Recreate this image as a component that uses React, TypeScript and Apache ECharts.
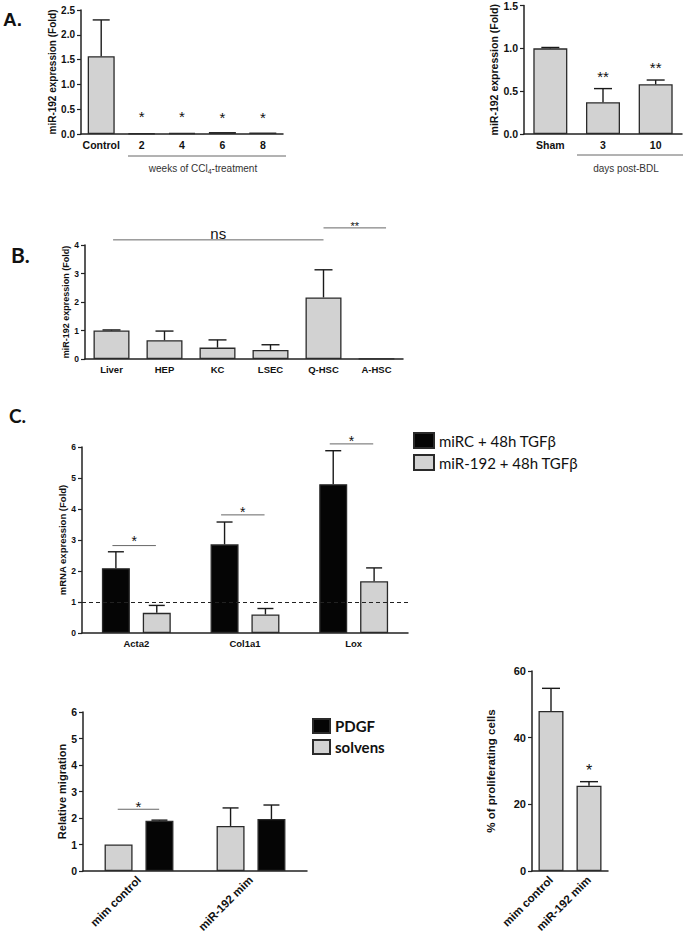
import React, { useEffect, useRef } from 'react';
import * as echarts from 'echarts';

const FONT = '"Liberation Sans", Arial, sans-serif';
const GRAY = '#d2d2d2';
const BLACK = '#050505';
const EDGE = '#2a2a2a';

// Panel A (left): CCl4
const catsA1 = ['Control', '2', '4', '6', '8'];
const valsA1 = [1.57, 0.01, 0.02, 0.04, 0.03];
const errA1 = [2.30, 0.015, 0.025, 0.05, 0.035];
const ticksA1 = [0, 0.5, 1.0, 1.5, 2.0, 2.5];
// [cat1, off1, cat2, off2, lineY, textY]
const annA1 = [[1, 0, 1, 0, 0.44, 0.44], [2, 0, 2, 0, 0.44, 0.44], [3, 0, 3, 0, 0.42, 0.42], [4, 0, 4, 0, 0.42, 0.42]];
const annA1Labels = ['*', '*', '*', '*'];

// Panel A (right): BDL
const catsA2 = ['Sham', '3', '10'];
const valsA2 = [1.0, 0.37, 0.58];
const errA2 = [1.01, 0.53, 0.63];
const annA2 = [[1, 0, 1, 0, 0.72, 0.72], [2, 0, 2, 0, 0.82, 0.82]];
const annA2Labels = ['**', '**'];

// Panel B: cell types
const catsB = ['Liver', 'HEP', 'KC', 'LSEC', 'Q-HSC', 'A-HSC'];
const valsB = [1.0, 0.66, 0.40, 0.32, 2.16, 0.01];
const errB = [1.02, 0.98, 0.67, 0.50, 3.13, 0.01];
const annB = [[0, 0.03, 4, 0, 4.18, 4.42], [4, 0, 5, 0.18, 4.6, 4.77]];
const annBLabels = ['ns', '**'];

// Panel C: mRNA expression
const catsC = ['Acta2', 'Col1a1', 'Lox'];
const seriesC1Name = 'miRC + 48h TGFβ';
const seriesC2Name = 'miR-192 + 48h TGFβ';
const valsC1 = [2.09, 2.86, 4.80];
const errC1 = [2.62, 3.58, 5.88];
const valsC2 = [0.65, 0.60, 1.67];
const errC2 = [0.89, 0.79, 2.10];
const refLineC = 1;
const annC = [[0, -0.22, 0, 0.18, 2.82, 3.1], [1, -0.22, 1, 0.18, 3.81, 4.03], [2, -0.22, 2, 0.18, 6.1, 6.32]];
const annCLabels = ['*', '*', '*'];

// Panel D: migration
const catsD = ['mim control', 'miR-192 mim'];
const valsDSolvens = [1.0, 1.70];
const errDSolvens = [1.0, 2.38];
const valsDPDGF = [1.90, 1.96];
const errDPDGF = [1.92, 2.49];
const annD = [[0, -0.19, 0, 0.18, 2.33, 2.6]];
const annDLabels = ['*'];

// Panel E: proliferation
const catsE = ['mim control', 'miR-192 mim'];
const valsE = [48.0, 25.6];
const errE = [54.8, 26.8];
const annE = [[1, 0, 1, 0, 31.5, 31.5]];
const annELabels = ['*'];

function errSeries(idx: number, vals: number[], tops: number[], offset: number, cap: number) {
  return {
    type: 'custom',
    xAxisIndex: idx,
    yAxisIndex: idx,
    silent: true,
    z: 3,
    encode: { x: 0, y: [1, 2] },
    data: vals.map((v, i) => [i, v, tops[i]]),
    renderItem: (params: any, api: any) => {
      const i = api.value(0);
      const p0 = api.coord([i, api.value(1)]);
      const p1 = api.coord([i, api.value(2)]);
      const x = p0[0] + offset;
      if (Math.abs(p1[1] - p0[1]) < 0.5) return null;
      const st = { stroke: '#1a1a1a', lineWidth: 1.4 };
      return {
        type: 'group',
        children: [
          { type: 'line', shape: { x1: x, y1: p0[1], x2: x, y2: p1[1] }, style: st },
          { type: 'line', shape: { x1: x - cap / 2, y1: p1[1], x2: x + cap / 2, y2: p1[1] }, style: st },
        ],
      };
    },
  };
}

function annSeries(idx: number, data: number[][], labels: string[], size: number) {
  return {
    type: 'custom',
    xAxisIndex: idx,
    yAxisIndex: idx,
    silent: true,
    z: 5,
    encode: { x: 0, y: 4 },
    data,
    renderItem: (params: any, api: any) => {
      const bw = api.size([1, 0])[0];
      const p1 = api.coord([api.value(0), api.value(4)]);
      const p2 = api.coord([api.value(2), api.value(4)]);
      const pt = api.coord([api.value(0), api.value(5)]);
      const x1 = p1[0] + api.value(1) * bw;
      const x2 = p2[0] + api.value(3) * bw;
      const label = labels[params.dataIndex];
      const isStar = label.indexOf('*') >= 0;
      const fs = label === 'ns' ? 15 : size;
      const children: any[] = [];
      if (x2 - x1 > 1) {
        children.push({ type: 'line', shape: { x1, y1: p1[1], x2, y2: p1[1] }, style: { stroke: '#666', lineWidth: 1 } });
      }
      children.push({
        type: 'text',
        style: {
          text: label,
          x: (x1 + x2) / 2,
          y: pt[1] + (isStar ? fs * 0.28 : 0),
          align: 'center',
          verticalAlign: 'middle',
          fontSize: fs,
          fontFamily: FONT,
          fill: '#111',
        },
      });
      return { type: 'group', children };
    },
  };
}

function xCat(idx: number, cats: string[], fontSize: number, extra: any = {}) {
  return {
    type: 'category',
    gridIndex: idx,
    data: cats,
    axisLine: { lineStyle: { color: '#222', width: 1.5 } },
    axisTick: { alignWithLabel: true, interval: 0, length: 4, lineStyle: { color: '#222', width: 1.2 } },
    axisLabel: { color: '#111', fontWeight: 'bold', fontFamily: FONT, fontSize, margin: 5, interval: 0, ...extra },
  };
}

function yVal(idx: number, max: number, interval: number, fontSize: number, name: string, nameSize: number, nameGap: number, decimals: number) {
  return {
    type: 'value',
    gridIndex: idx,
    min: 0,
    max,
    interval,
    name,
    nameLocation: 'middle',
    nameGap,
    nameTextStyle: { fontWeight: 'bold', fontSize: nameSize, fontFamily: FONT, color: '#111' },
    splitLine: { show: false },
    axisLine: { show: true, lineStyle: { color: '#222', width: 1.5 } },
    axisTick: { show: true, length: 4, lineStyle: { color: '#222', width: 1.2 } },
    axisLabel: {
      color: '#111', fontWeight: 'bold', fontFamily: FONT, fontSize, margin: 6,
      formatter: (v: number) => v.toFixed(decimals),
    },
  };
}

function barSeries(idx: number, name: string, vals: number[], color: string, width: number, gap?: string) {
  const s: any = {
    type: 'bar',
    name,
    xAxisIndex: idx,
    yAxisIndex: idx,
    data: vals,
    barWidth: width,
    itemStyle: { color, borderColor: EDGE, borderWidth: 1.3 },
    z: 2,
  };
  if (gap) s.barGap = gap;
  return s;
}

export default function App() {
  const ref = useRef<HTMLDivElement>(null);
  useEffect(() => {
    if (!ref.current) return;
    const chart = echarts.init(ref.current, null, { renderer: 'svg' });
    const gOff = (28 * 1.46) / 2;
    const option: any = {
      animation: false,
      backgroundColor: '#ffffff',
      grid: [
        { left: 81, top: 10, width: 202, height: 124 },
        { left: 524, top: 4.5, width: 158, height: 129.5 },
        { left: 85, top: 245, width: 318, height: 114 },
        { left: 82, top: 447, width: 326, height: 186 },
        { left: 83, top: 712, width: 224, height: 159 },
        { left: 532, top: 671, width: 76, height: 200 },
      ],
      xAxis: [
        xCat(0, catsA1, 10.5),
        xCat(1, catsA2, 10.5),
        xCat(2, catsB, 9.5),
        xCat(3, catsC, 9.5),
        xCat(4, catsD, 11.5, { rotate: 45, margin: 7 }),
        xCat(5, catsE, 11.5, { rotate: 45, margin: 7 }),
      ],
      yAxis: [
        yVal(0, ticksA1[ticksA1.length - 1], 0.5, 10, 'miR-192 expression (Fold)', 10, 21, 1),
        yVal(1, 1.5, 0.5, 10.5, 'miR-192 expression (Fold)', 10.5, 22, 1),
        yVal(2, 4, 1, 8.5, 'miR-192 expression (Fold)', 9, 15, 0),
        yVal(3, 6, 1, 8.5, 'mRNA expression (Fold)', 9.5, 14, 0),
        yVal(4, 6, 1, 10.5, 'Relative migration', 11, 15, 0),
        yVal(5, 60, 20, 11, '% of proliferating cells', 11.5, 35, 0),
      ],
      legend: [
        {
          left: 413, top: 432, orient: 'vertical', padding: 0, itemWidth: 20, itemHeight: 15, itemGap: 5,
          icon: 'rect', selectedMode: false,
          data: [seriesC1Name, seriesC2Name],
          textStyle: { fontFamily: 'Lato', fontSize: 15, lineHeight: 15, color: '#111' },
        },
        {
          left: 312, top: 718, orient: 'vertical', padding: 0, itemWidth: 17, itemHeight: 14, itemGap: 5,
          icon: 'rect', selectedMode: false,
          data: ['PDGF', 'solvens'],
          textStyle: { fontFamily: 'Lato', fontWeight: 'bold', fontSize: 15, lineHeight: 14, color: '#111' },
        },
      ],
      series: [
        barSeries(0, 'A1', valsA1, GRAY, 27),
        errSeries(0, valsA1, errA1, 0, 17),
        annSeries(0, annA1, annA1Labels, 15),

        barSeries(1, 'A2', valsA2, GRAY, 34),
        errSeries(1, valsA2, errA2, 0, 18),
        annSeries(1, annA2, annA2Labels, 15),

        barSeries(2, 'B', valsB, GRAY, 36),
        errSeries(2, valsB, errB, 0, 18),
        annSeries(2, annB, annBLabels, 11),

        {
          ...barSeries(3, seriesC1Name, valsC1, BLACK, 28, '46%'),
          markLine: {
            silent: true, symbol: 'none', label: { show: false },
            lineStyle: { type: [4, 3], color: '#222', width: 1.2 },
            data: [{ yAxis: refLineC }],
          },
        },
        barSeries(3, seriesC2Name, valsC2, GRAY, 28, '46%'),
        errSeries(3, valsC1, errC1, -gOff, 16),
        errSeries(3, valsC2, errC2, gOff, 16),
        annSeries(3, annC, annCLabels, 14),

        barSeries(4, 'solvens', valsDSolvens, GRAY, 28, '46%'),
        barSeries(4, 'PDGF', valsDPDGF, BLACK, 28, '46%'),
        errSeries(4, valsDSolvens, errDSolvens, -gOff, 16),
        errSeries(4, valsDPDGF, errDPDGF, gOff, 16),
        annSeries(4, annD, annDLabels, 15),

        barSeries(5, 'E', valsE, GRAY, 25),
        errSeries(5, valsE, errE, 0, 18),
        annSeries(5, annE, annELabels, 16),
      ],
      graphic: [
        { type: 'text', left: 3, top: 10, style: { text: 'A.', font: 'bold 19px "Liberation Sans", Arial, sans-serif', fill: '#111' } },
        { type: 'text', left: 11, top: 244, style: { text: 'B.', font: 'bold 21px Lato, sans-serif', fill: '#111' } },
        { type: 'text', left: 9, top: 406, style: { text: 'C.', font: 'bold 19px Lato, sans-serif', fill: '#111' } },
        { type: 'line', shape: { x1: 128, y1: 156, x2: 286, y2: 156 }, style: { stroke: '#666', lineWidth: 1 } },
        {
          type: 'text', x: 203, y: 168,
          style: {
            text: 'weeks of CCl{sub|4}-treatment', align: 'center', verticalAlign: 'middle',
            fontSize: 10, fontFamily: FONT, fill: '#333',
            rich: { sub: { fontSize: 7, fontFamily: FONT, fill: '#333', padding: [6, 0, 0, 0] } },
          },
        },
        { type: 'line', shape: { x1: 577, y1: 155, x2: 683, y2: 155 }, style: { stroke: '#666', lineWidth: 1 } },
        {
          type: 'text', x: 626, y: 168,
          style: { text: 'days post-BDL', align: 'center', verticalAlign: 'middle', fontSize: 10, fontFamily: FONT, fill: '#333' },
        },
      ],
    };
    chart.setOption(option);
    return () => chart.dispose();
  }, []);
  return <div ref={ref} style={{ position: 'absolute', left: 0, top: 0, width: 685, height: 940, background: '#fff' }} />;
}
